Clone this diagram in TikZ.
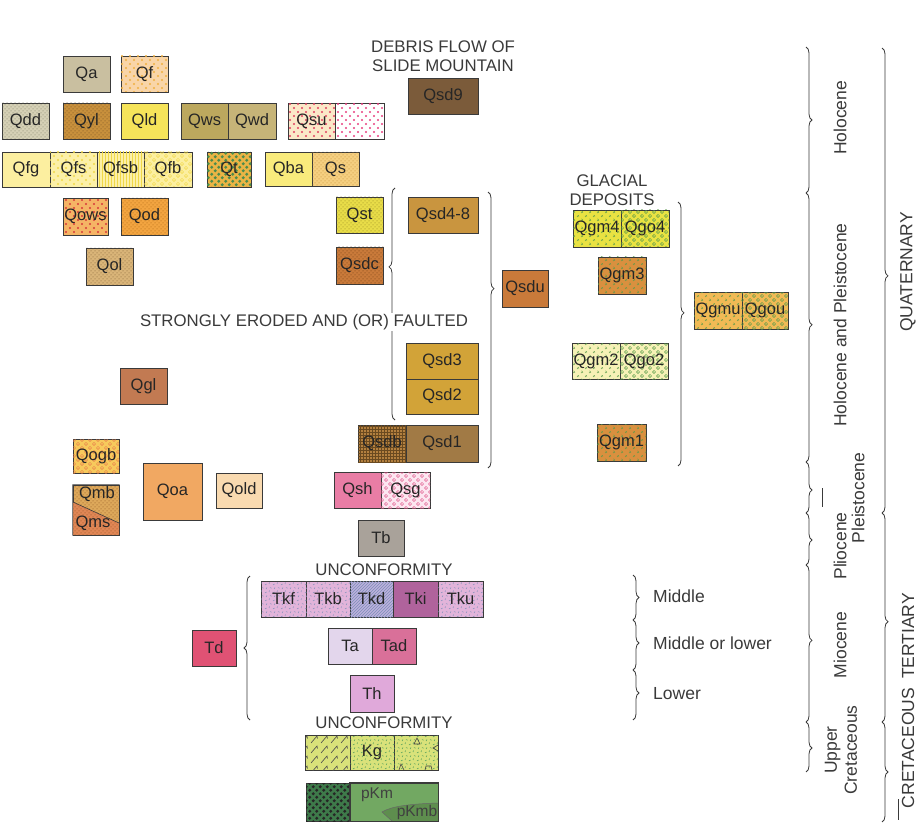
\documentclass[tikz,border=0pt]{standalone}
\usepackage{fontspec}
\setmainfont{Liberation Sans}
\usetikzlibrary{patterns,decorations.pathreplacing}

% unit colours
\definecolor{qaC}{HTML}{C9BFA0}\definecolor{qfC}{HTML}{F9D5A8}\definecolor{qfD}{HTML}{F0B040}
\definecolor{qddC}{HTML}{D5D0B5}\definecolor{qddD}{HTML}{7A7A60}
\definecolor{qylC}{HTML}{C8903C}\definecolor{qylD}{HTML}{6A4A20}
\definecolor{qldC}{HTML}{F6E45A}\definecolor{qwsC}{HTML}{BCA85E}\definecolor{qwdC}{HTML}{C6B478}
\definecolor{qsuC}{HTML}{FBE8C8}\definecolor{qsuD}{HTML}{E04060}\definecolor{qsxD}{HTML}{E84080}
\definecolor{qsd9C}{HTML}{7B5B3A}
\definecolor{qfgC}{HTML}{FCEFA0}\definecolor{qfsC}{HTML}{FCF0A8}\definecolor{qfsD}{HTML}{F0D848}
\definecolor{qtC}{HTML}{EAB445}\definecolor{qtD}{HTML}{4C8C4C}
\definecolor{qbaC}{HTML}{F9EB7C}\definecolor{qsC}{HTML}{F5CF80}\definecolor{qsD}{HTML}{C08830}
\definecolor{qowsC}{HTML}{F5B465}\definecolor{qowsD}{HTML}{D83838}
\definecolor{qodC}{HTML}{F2A440}\definecolor{qodD}{HTML}{A86010}
\definecolor{qolC}{HTML}{D9B478}\definecolor{qolD}{HTML}{7A5A30}
\definecolor{qstC}{HTML}{E8DC48}\definecolor{qstD}{HTML}{8A8020}
\definecolor{qsdcC}{HTML}{C97A3A}\definecolor{qsdcD}{HTML}{6A3A10}
\definecolor{qsd48C}{HTML}{C9953F}\definecolor{qsduC}{HTML}{C97A3A}\definecolor{qsd23C}{HTML}{D2A338}
\definecolor{qsdbC}{HTML}{B3803F}\definecolor{qsdbD}{HTML}{6A4A20}\definecolor{qsd1C}{HTML}{A17A45}
\definecolor{qglC}{HTML}{C27A52}\definecolor{qogbC}{HTML}{F7CA5C}\definecolor{qogbD}{HTML}{E8804A}
\definecolor{qmbC}{HTML}{DDA85A}\definecolor{qmsC}{HTML}{E08655}\definecolor{qmD}{HTML}{8A5020}
\definecolor{qoaC}{HTML}{F1A862}\definecolor{qoldC}{HTML}{F9DAB0}
\definecolor{qshC}{HTML}{E97DA5}\definecolor{qsgC}{HTML}{FCE6F0}\definecolor{qsgD}{HTML}{E06090}
\definecolor{tbC}{HTML}{A9A29A}
\definecolor{tkC}{HTML}{E2B4DA}\definecolor{tkD}{HTML}{7C90B8}\definecolor{tkdC}{HTML}{BDB0DD}
\definecolor{tkiC}{HTML}{B0639C}\definecolor{taC}{HTML}{E3D6EC}\definecolor{tadC}{HTML}{D97099}
\definecolor{thC}{HTML}{E0A9DA}\definecolor{tdC}{HTML}{E05274}
\definecolor{kgC}{HTML}{D9E27A}\definecolor{kgD}{HTML}{4A9A5A}
\definecolor{pkmC}{HTML}{72A862}\definecolor{pkmbC}{HTML}{5E8E4E}\definecolor{pkdC}{HTML}{3E7A4A}
\definecolor{qgm4C}{HTML}{E9E242}\definecolor{qgD}{HTML}{5A9A4A}\definecolor{qgm3C}{HTML}{D9903F}
\definecolor{qgm2C}{HTML}{F6F1B6}\definecolor{qgmuC}{HTML}{F1BA55}
\definecolor{inkC}{HTML}{3A3A3A}

% fill patterns
\pgfdeclarepatternformonly{stipple}{\pgfqpoint{-1pt}{-1pt}}{\pgfqpoint{5pt}{5pt}}{\pgfqpoint{4pt}{4pt}}{%
  \pgfpathcircle{\pgfqpoint{1pt}{1pt}}{0.5pt}\pgfpathcircle{\pgfqpoint{3pt}{3pt}}{0.5pt}\pgfusepath{fill}}
\pgfdeclarepatternformonly{sparsedots}{\pgfqpoint{-1pt}{-1pt}}{\pgfqpoint{9pt}{9pt}}{\pgfqpoint{8pt}{8pt}}{%
  \pgfpathcircle{\pgfqpoint{2pt}{2pt}}{1.1pt}\pgfpathcircle{\pgfqpoint{6pt}{6pt}}{1.1pt}\pgfusepath{fill}}
\pgfdeclarepatternformonly{bigdots}{\pgfqpoint{-1pt}{-1pt}}{\pgfqpoint{8pt}{8pt}}{\pgfqpoint{7pt}{7pt}}{%
  \pgfpathcircle{\pgfqpoint{1.75pt}{1.75pt}}{1.6pt}\pgfpathcircle{\pgfqpoint{5.25pt}{5.25pt}}{1.6pt}\pgfusepath{fill}}
\pgfdeclarepatternformonly{rings}{\pgfqpoint{-1pt}{-1pt}}{\pgfqpoint{9pt}{9pt}}{\pgfqpoint{8pt}{8pt}}{%
  \pgfsetlinewidth{0.5pt}\pgfpathcircle{\pgfqpoint{2pt}{2pt}}{1.6pt}\pgfpathcircle{\pgfqpoint{6pt}{6pt}}{1.6pt}\pgfusepath{stroke}}
\pgfdeclarepatternformonly{squig}{\pgfqpoint{-1pt}{-1pt}}{\pgfqpoint{9pt}{9pt}}{\pgfqpoint{8pt}{8pt}}{%
  \pgfsetlinewidth{0.5pt}%
  \pgfpathmoveto{\pgfqpoint{1pt}{1pt}}\pgfpathcurveto{\pgfqpoint{1pt}{3pt}}{\pgfqpoint{3.5pt}{3pt}}{\pgfqpoint{3pt}{1.5pt}}%
  \pgfpathmoveto{\pgfqpoint{5pt}{5pt}}\pgfpathcurveto{\pgfqpoint{7pt}{4.5pt}}{\pgfqpoint{7.5pt}{7pt}}{\pgfqpoint{5.5pt}{7.2pt}}%
  \pgfusepath{stroke}}
\pgfdeclarepatternformonly{ticks}{\pgfqpoint{-1pt}{-1pt}}{\pgfqpoint{9pt}{9pt}}{\pgfqpoint{8pt}{8pt}}{%
  \pgfsetlinewidth{0.5pt}%
  \pgfpathmoveto{\pgfqpoint{1pt}{1pt}}\pgfpathlineto{\pgfqpoint{2.6pt}{2pt}}%
  \pgfpathmoveto{\pgfqpoint{5pt}{2pt}}\pgfpathlineto{\pgfqpoint{5.5pt}{3.6pt}}%
  \pgfpathmoveto{\pgfqpoint{2pt}{5pt}}\pgfpathlineto{\pgfqpoint{3pt}{6.5pt}}%
  \pgfpathmoveto{\pgfqpoint{6pt}{6.4pt}}\pgfpathlineto{\pgfqpoint{7.6pt}{5.8pt}}%
  \pgfusepath{stroke}}
\pgfdeclarepatternformonly{checks}{\pgfqpoint{-1pt}{-1pt}}{\pgfqpoint{11pt}{11pt}}{\pgfqpoint{10pt}{10pt}}{%
  \pgfsetlinewidth{0.6pt}%
  \pgfpathmoveto{\pgfqpoint{1pt}{1pt}}\pgfpathlineto{\pgfqpoint{7pt}{8pt}}\pgfpathlineto{\pgfqpoint{7.5pt}{5.5pt}}%
  \pgfusepath{stroke}}

\begin{document}
\begin{tikzpicture}[x=1pt, y=-1pt,
  unit/.style={rectangle, draw=inkC, line width=0.6pt, minimum width=47pt, minimum height=36pt,
    inner sep=0pt, text=black!85, font=\fontsize{16.5}{18}\selectfont},
  pat/.style 2 args={postaction={pattern=#1, pattern color=#2}},
  head/.style={align=center, inner sep=1pt, text=inkC, font=\fontsize{16.8}{18.5}\selectfont},
  span/.style={anchor=west, inner sep=1pt, text=inkC, font=\fontsize{17.5}{19}\selectfont},
  age/.style={rotate=90, align=center, inner sep=0pt, text=inkC, font=\fontsize{17.5}{20}\selectfont},
  brc/.style={decorate, decoration={brace, amplitude=6pt, aspect=#1}, line width=0.8pt, inkC},
  brc/.default=0.5]
\useasboundingbox (0,0) rectangle (923,834);

%Nodes - Quaternary surficial units
\node[unit, fill=qaC] (qa) at (86.5,74) {Qa};
\node[unit, fill=qfC, pat={sparsedots}{qfD}] (qf) at (144.5,74) {Qf};
\node[unit, fill=qddC, pat={stipple}{qddD}] (qdd) at (25.5,121) {Qdd};
\node[unit, fill=qylC, pat={stipple}{qylD}] (qyl) at (86.5,121) {Qyl};
\node[unit, fill=qldC] (qld) at (144.5,121) {Qld};
\node[unit, fill=qwsC] (qws) at (204.5,121) {Qws};
\node[unit, fill=qwdC, minimum width=48pt] (qwd) at (252,121) {Qwd};
\node[unit, fill=qsuC, pat={sparsedots}{qsuD}] (qsu) at (311.5,121) {Qsu};
\node[unit, fill=white, pat={sparsedots}{qsxD}, minimum width=49pt] (qsux) at (359.5,121) {};
\node[head] (debris) at (443,56) {DEBRIS FLOW OF\\SLIDE MOUNTAIN};
\node[unit, fill=qsd9C, minimum width=70pt] (qsd9) at (443,96) {Qsd9};
\node[unit, fill=qfgC, minimum width=48pt, minimum height=35pt] (qfg) at (26,169.5) {Qfg};
\node[unit, fill=qfsC, pat={sparsedots}{qfsD}, minimum height=35pt] (qfs) at (73.5,169.5) {Qfs};
\node[unit, fill=qfsC, pat={vertical lines}{qfsD}, minimum height=35pt] (qfsb) at (120.5,169.5) {Qfsb};
\node[unit, fill=qfgC, pat={rings}{qfsD}, minimum width=48pt, minimum height=35pt] (qfb) at (168,169.5) {Qfb};
\node[unit, fill=qtC, pat={bigdots}{qtD}, minimum width=44pt, minimum height=35pt] (qt) at (229,169.5) {Qt};
\node[unit, fill=qbaC, minimum height=34pt] (qba) at (288.5,169) {Qba};
\node[unit, fill=qsC, pat={stipple}{qsD}, minimum height=34pt] (qs) at (335.5,169) {Qs};
\node[unit, fill=qowsC, pat={sparsedots}{qowsD}, minimum width=45pt, minimum height=37pt] (qows) at (85.5,216.5) {Qows};
\node[unit, fill=qodC, pat={stipple}{qodD}, minimum height=37pt] (qod) at (144.5,216.5) {Qod};
\node[unit, fill=qolC, pat={stipple}{qolD}, minimum height=37pt] (qol) at (109.5,266.5) {Qol};
\node[unit, fill=qglC] (qgl) at (143.5,386) {Qgl};
\node[unit, fill=qogbC, pat={rings}{qogbD}, minimum width=46pt, minimum height=34pt] (qogb) at (96,456) {Qogb};
\node[unit, fill=qmbC, pat={stipple}{qmD}, minimum width=46pt, minimum height=50pt] (qmbox) at (96,510) {};
\fill[qmsC, postaction={pattern=stipple, pattern color=qmD}] (73,502) -- (119,523) -- (119,535) -- (73,535) -- cycle;
\draw[inkC, line width=0.6pt] (73,502) -- (119,523) (qmbox.north west) rectangle (qmbox.south east);
\node[text=black!85, font=\fontsize{16.5}{18}\selectfont] (qmb) at (97,494) {Qmb};
\node[text=black!85, font=\fontsize{16.5}{18}\selectfont] (qms) at (93,523) {Qms};
\node[unit, fill=qoaC, minimum width=59pt, minimum height=57pt] (qoa) at (172.5,491.5) {Qoa};
\node[unit, fill=qoldC, minimum width=46pt, minimum height=35pt] (qold) at (239,490.5) {Qold};

%Nodes - Slide Mountain deposits
\node[unit, fill=qstC, pat={stipple}{qstD}] (qst) at (359.5,215) {Qst};
\node[unit, fill=qsdcC, pat={stipple}{qsdcD}, minimum height=37pt] (qsdc) at (359.5,265.5) {Qsdc};
\node[unit, fill=qsd48C, minimum width=70pt] (qsd48) at (443,215) {Qsd4-8};
\node[unit, fill=qsduC, minimum width=46pt, minimum height=37pt] (qsdu) at (525,288.5) {Qsdu};
\node[unit, fill=qsd23C, minimum width=72pt] (qsd3) at (442,361) {Qsd3};
\node[unit, fill=qsd23C, minimum width=72pt, minimum height=35pt] (qsd2) at (442,396.5) {Qsd2};
\node[unit, fill=qsdbC, pat={grid}{qsdbD}, minimum width=48pt, minimum height=37pt] (qsdb) at (382,443.5) {Qsdb};
\node[unit, fill=qsd1C, minimum width=72pt, minimum height=37pt] (qsd1) at (442,443.5) {Qsd1};
\node[unit, fill=qshC] (qsh) at (357.5,490) {Qsh};
\node[unit, fill=qsgC, pat={rings}{qsgD}, minimum width=49pt] (qsg) at (405.5,490) {Qsg};
\node[unit, fill=tbC, minimum width=46pt] (tb) at (381,538) {Tb};

%Nodes - glacial deposits
\node[head] (glacial) at (612,190) {GLACIAL\\DEPOSITS};
\node[unit, fill=qgm4C, pat={squig}{qgD}, minimum width=48pt, minimum height=37pt] (qgm4) at (597,228.5) {Qgm4};
\node[unit, fill=qgm4C, pat={rings}{qgD}, minimum width=48pt, minimum height=37pt] (qgo4) at (645,228.5) {Qgo4};
\node[unit, fill=qgm3C, pat={squig}{qgD}, minimum width=48pt, minimum height=37pt] (qgm3) at (622,275.5) {Qgm3};
\node[unit, fill=qgm2C, pat={squig}{qgD}, minimum width=48pt] (qgm2) at (596,361) {Qgm2};
\node[unit, fill=qgm2C, pat={rings}{qgD}, minimum width=48pt] (qgo2) at (644,361) {Qgo2};
\node[unit, fill=qgm3C, pat={squig}{qgD}, minimum width=49pt, minimum height=37pt] (qgm1) at (621.5,442.5) {Qgm1};
\node[unit, fill=qgmuC, pat={squig}{qgD}, minimum width=48pt, minimum height=37pt] (qgmu) at (718,310.5) {Qgmu};
\node[unit, fill=qgmuC, pat={rings}{qgD}, minimum width=46pt, minimum height=37pt] (qgou) at (765,310.5) {Qgou};

%Nodes - Tertiary and older
\node[head] (uncf1) at (384,570) {UNCONFORMITY};
\node[unit, fill=tkC, pat={ticks}{tkD}, minimum width=45pt] (tkf) at (283.5,599) {Tkf};
\node[unit, fill=tkC, pat={ticks}{tkD}, minimum width=44pt] (tkb) at (328,599) {Tkb};
\node[unit, fill=tkdC, pat={north east lines}{tkD}, minimum width=43pt] (tkd) at (371.5,599) {Tkd};
\node[unit, fill=tkiC, minimum width=45pt] (tki) at (415.5,599) {Tki};
\node[unit, fill=tkC, pat={ticks}{tkD}, minimum width=45pt] (tku) at (460.5,599) {Tku};
\node[unit, fill=taC, minimum width=44pt] (ta) at (350,646) {Ta};
\node[unit, fill=tadC, minimum width=44pt] (tad) at (394,646) {Tad};
\node[unit, fill=thC, minimum width=44pt, minimum height=37pt] (th) at (372,693.5) {Th};
\node[unit, fill=tdC, minimum width=44pt] (td) at (214,648) {Td};
\node[head] (uncf2) at (384,723) {UNCONFORMITY};
\node[unit, fill=kgC, pat={checks}{black!70}, minimum width=45pt, minimum height=35pt] (kga) at (327.5,752.5) {};
\node[unit, fill=kgC, pat={ticks}{kgD}, minimum width=44pt, minimum height=35pt] (kg) at (372,752.5) {Kg};
\node[unit, fill=kgC, pat={ticks}{kgD}, minimum width=44pt, minimum height=35pt] (kgc) at (416,752.5) {};
\draw[black!75, line width=0.6pt] (414,744) -- (417,738) -- (420,744) -- cycle
  (438,745) -- (433,748) -- (438,751) (399,770) -- (401,764) -- (404,770) (425,770) -- (426,766) -- (431,766) -- (432,770);
\node[unit, fill=pkdC, pat={bigdots}{black!85}, minimum width=44pt, minimum height=38pt] (pkmd) at (328,802) {};
\node[unit, fill=pkmC, minimum width=88pt, minimum height=38pt] (pkmbox) at (394,802) {};
\fill[pkmbC] (438,803) .. controls (410,804) and (392,806) .. (382,812) -- (392,821) -- (438,821) -- cycle;
\draw[black!60, line width=0.5pt] (438,803) .. controls (410,804) and (392,806) .. (382,812) -- (392,821);
\draw[inkC, line width=0.6pt] (pkmbox.north west) rectangle (pkmbox.south east);
\node[text=black!75, font=\fontsize{15.5}{17}\selectfont] (pkm) at (377,795) {pKm};
\node[text=black!75, font=\fontsize{15.5}{17}\selectfont] (pkmb) at (417,812) {pKmb};

%Lines - braces between the unit groups
\coordinate (sdlb) at (395,420); \coordinate (sdlt) at (395,188);
\coordinate (sdrt) at (488,192); \coordinate (sdrb) at (488,468);
\coordinate (glt) at (678,202); \coordinate (glb) at (678,466);
\coordinate (tdb) at (250,720); \coordinate (tdt) at (250,576);
\draw[brc=0.66] (sdlb) -- (sdlt);
\draw[brc=0.35] (sdrt) -- (sdrb);
\draw[brc=0.42] (glt) -- (glb);
\draw[brc] (tdb) -- (tdt);
\node[head, fill=white] (eroded) at (304,322) {STRONGLY ERODED AND (OR) FAULTED};

%Lines - Tertiary subdivisions
\coordinate (m0) at (633,575); \coordinate (m1) at (633,620);
\coordinate (m2) at (633,670); \coordinate (m3) at (633,720);
\draw[brc] (m0) -- (m1);
\draw[brc=0.46] (m1) -- (m2);
\draw[brc=0.46] (m2) -- (m3);
\node[span] (middle) at (652,596) {Middle};
\node[span] (midlow) at (652,643) {Middle or lower};
\node[span] (lower) at (652,694) {Lower};

%Lines - epochs
\coordinate (e0) at (806,47); \coordinate (e1) at (806,193); \coordinate (e2) at (806,462);
\coordinate (e3) at (806,513); \coordinate (e4) at (806,565); \coordinate (e5) at (806,722);
\coordinate (e6) at (806,772);
\draw[brc] (e0) -- (e1);
\draw[brc=0.49] (e1) -- (e2);
\draw[brc=0.55] (e2) -- (e3);
\draw[brc=0.52] (e3) -- (e4);
\draw[brc=0.48] (e4) -- (e5);
\draw[brc=0.52] (e5) -- (e6);
\node[age] (holo) at (840,118) {Holocene};
\node[age] (holopl) at (840,325) {Holocene and Pleistocene};
\node[age] (pleist) at (858,498) {Pleistocene};
\node[age] (plio) at (840,546) {Pliocene};
\node[age] (mio) at (840,645) {Miocene};
\node[age] (ucret) at (841,750) {Upper\\Cretaceous};
\draw[inkC, line width=0.8pt] (822,488) -- (822,507);

%Lines - periods
\coordinate (p0) at (882,48); \coordinate (p1) at (882,513);
\coordinate (p2) at (882,722); \coordinate (p3) at (882,822);
\draw[brc=0.49] (p0) -- (p1);
\draw[brc=0.52] (p1) -- (p2);
\draw[brc] (p2) -- (p3);
\node[age] (quat) at (908,272) {QUATERNARY};
\node[age] (tert) at (908,636) {TERTIARY};
\node[age] (cret) at (908,748) {CRETACEOUS};
\draw[inkC, line width=0.8pt] (898,799) -- (898,820);

\end{tikzpicture}
\end{document}
